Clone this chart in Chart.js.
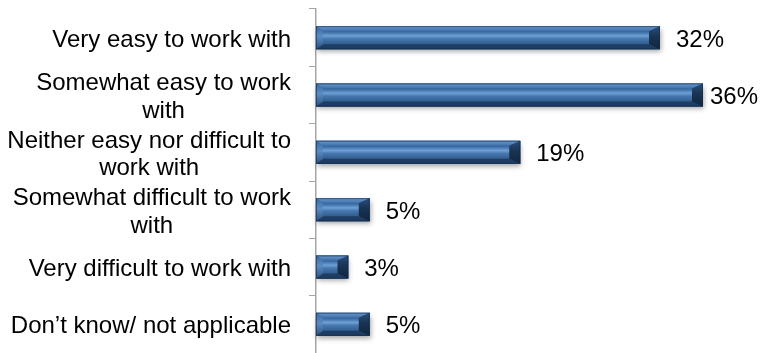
<!DOCTYPE html>
<html>
<head>
<meta charset="utf-8">
<script src="https://cdn.jsdelivr.net/npm/chart.js@4/dist/chart.umd.min.js"></script>
<style>
  html, body { margin: 0; padding: 0; background: #ffffff; }
  #wrap { width: 760px; height: 353px; position: relative; }
</style>
</head>
<body>
<div id="wrap"><canvas id="chart"></canvas></div>
<script>
// categories, one array of lines per answer
const categories = [
  ['Very easy to work with'],
  ['Somewhat easy to work', 'with'],
  ['Neither easy nor difficult to', 'work with'],
  ['Somewhat difficult to work', 'with'],
  ['Very difficult to work with'],
  ['Don\u2019t know/ not applicable']
];
// share of answers, in percent
const shares = [32, 36, 19, 5, 3, 5];
// text shown next to each bar
const shareLabels = ['32%', '36%', '19%', '5%', '3%', '5%'];

const FONT = '24px "Liberation Sans", Arial, sans-serif';

// gives each bar a bevelled, shaded look and draws the value labels
const bevelBars = {
  id: 'bevelBars',
  afterDatasetsDraw(chart) {
    const ctx = chart.ctx;
    const bars = chart.getDatasetMeta(0).data;
    bars.forEach((bar, i) => {
      const x0 = bar.base, x1 = bar.x;
      const y0 = bar.y - bar.height / 2, y1 = bar.y + bar.height / 2;
      const w = x1 - x0, h = y1 - y0;
      const bt = 5;                        // top / bottom bevel
      const bl = Math.min(7, w / 4);       // left bevel
      const br = Math.min(11, w / 3);      // right bevel

      ctx.save();
      // soft drop shadow
      ctx.shadowColor = 'rgba(0,0,0,0.35)';
      ctx.shadowBlur = 5;
      ctx.shadowOffsetX = 1;
      ctx.shadowOffsetY = 3;
      ctx.fillStyle = '#2b5686';
      ctx.fillRect(x0, y0, w, h);
      ctx.restore();

      ctx.save();
      // face
      const g = ctx.createLinearGradient(0, y0, 0, y1);
      g.addColorStop(0, '#2a5588');
      g.addColorStop(0.25, '#3a6ba2');
      g.addColorStop(0.42, '#6e9fd5');
      g.addColorStop(0.55, '#4777ad');
      g.addColorStop(0.8, '#2f5c8e');
      g.addColorStop(1, '#234670');
      ctx.fillStyle = g;
      ctx.fillRect(x0, y0, w, h);

      const poly = (pts, fill) => {
        ctx.beginPath();
        ctx.moveTo(pts[0][0], pts[0][1]);
        for (let k = 1; k < pts.length; k++) ctx.lineTo(pts[k][0], pts[k][1]);
        ctx.closePath();
        ctx.fillStyle = fill;
        ctx.fill();
      };
      // top bevel
      const gt = ctx.createLinearGradient(0, y0, 0, y0 + bt);
      gt.addColorStop(0, '#6a9ad0');
      gt.addColorStop(1, '#3e6ea6');
      poly([[x0, y0], [x1, y0], [x1 - br, y0 + bt], [x0 + bl, y0 + bt]], gt);
      // bottom bevel
      poly([[x0, y1], [x1, y1], [x1 - br, y1 - bt], [x0 + bl, y1 - bt]], '#1f3d62');
      // left bevel
      const gl = ctx.createLinearGradient(0, y0, 0, y1);
      gl.addColorStop(0, '#3a69a0');
      gl.addColorStop(0.45, '#5b8cc3');
      gl.addColorStop(1, '#2a5080');
      poly([[x0, y0], [x0 + bl, y0 + bt], [x0 + bl, y1 - bt], [x0, y1]], gl);
      // right bevel
      const gr = ctx.createLinearGradient(0, y0, 0, y1);
      gr.addColorStop(0, '#2a4f7c');
      gr.addColorStop(0.45, '#183353');
      gr.addColorStop(1, '#102640');
      poly([[x1, y0], [x1, y1], [x1 - br, y1 - bt], [x1 - br, y0 + bt]], gr);
      // thin dark outline
      ctx.strokeStyle = 'rgba(20,40,70,0.55)';
      ctx.lineWidth = 1;
      ctx.strokeRect(x0 + 0.5, y0 + 0.5, w - 1, h - 1);
      ctx.restore();

      // value label
      ctx.save();
      ctx.font = FONT;
      ctx.fillStyle = '#000000';
      ctx.textBaseline = 'middle';
      ctx.textAlign = 'left';
      const tw = ctx.measureText(shareLabels[i]).width;
      const lx = Math.min(x1 + 16, chart.width - 2 - tw);
      ctx.fillText(shareLabels[i], lx, bar.y + 2.5);
      ctx.restore();
    });
  },
  // category labels: block right-aligned, lines centred in the block
  afterDraw(chart) {
    const ctx = chart.ctx;
    const yScale = chart.scales.y;
    const right = 291;
    const lineH = 27.5;
    ctx.save();
    ctx.font = FONT;
    ctx.fillStyle = '#000000';
    ctx.textBaseline = 'middle';
    ctx.textAlign = 'center';
    categories.forEach((lines, i) => {
      const cy = yScale.getPixelForValue(i) + 2.5;
      const maxW = Math.max(...lines.map(l => ctx.measureText(l).width));
      const cx = right - maxW / 2;
      const top = cy - (lines.length - 1) * lineH / 2;
      lines.forEach((l, k) => ctx.fillText(l, cx, top + k * lineH));
    });
    ctx.restore();
  }
};

new Chart(document.getElementById('chart'), {
  type: 'bar',
  data: {
    labels: categories,
    datasets: [{
      data: shares,
      backgroundColor: '#2f5d8f',
      borderWidth: 0,
      categoryPercentage: 1,
      barPercentage: 0.4
    }]
  },
  options: {
    indexAxis: 'y',
    responsive: true,
    maintainAspectRatio: false,
    animation: false,
    layout: { padding: { top: 9, bottom: 0, left: 0, right: 14 } },
    plugins: {
      legend: { display: false },
      tooltip: { enabled: false }
    },
    scales: {
      x: {
        display: false,
        min: 0,
        max: 40
      },
      y: {
        offset: true,
        ticks: { display: false },
        grid: {
          offset: true,
          drawOnChartArea: false,
          drawTicks: true,
          tickLength: 7,
          color: '#a6a6a6'
        },
        border: { display: true, color: '#a6a6a6', width: 1.5 },
        afterFit(scale) { scale.width = 316; }
      }
    }
  },
  plugins: [bevelBars]
});
</script>
</body>
</html>
